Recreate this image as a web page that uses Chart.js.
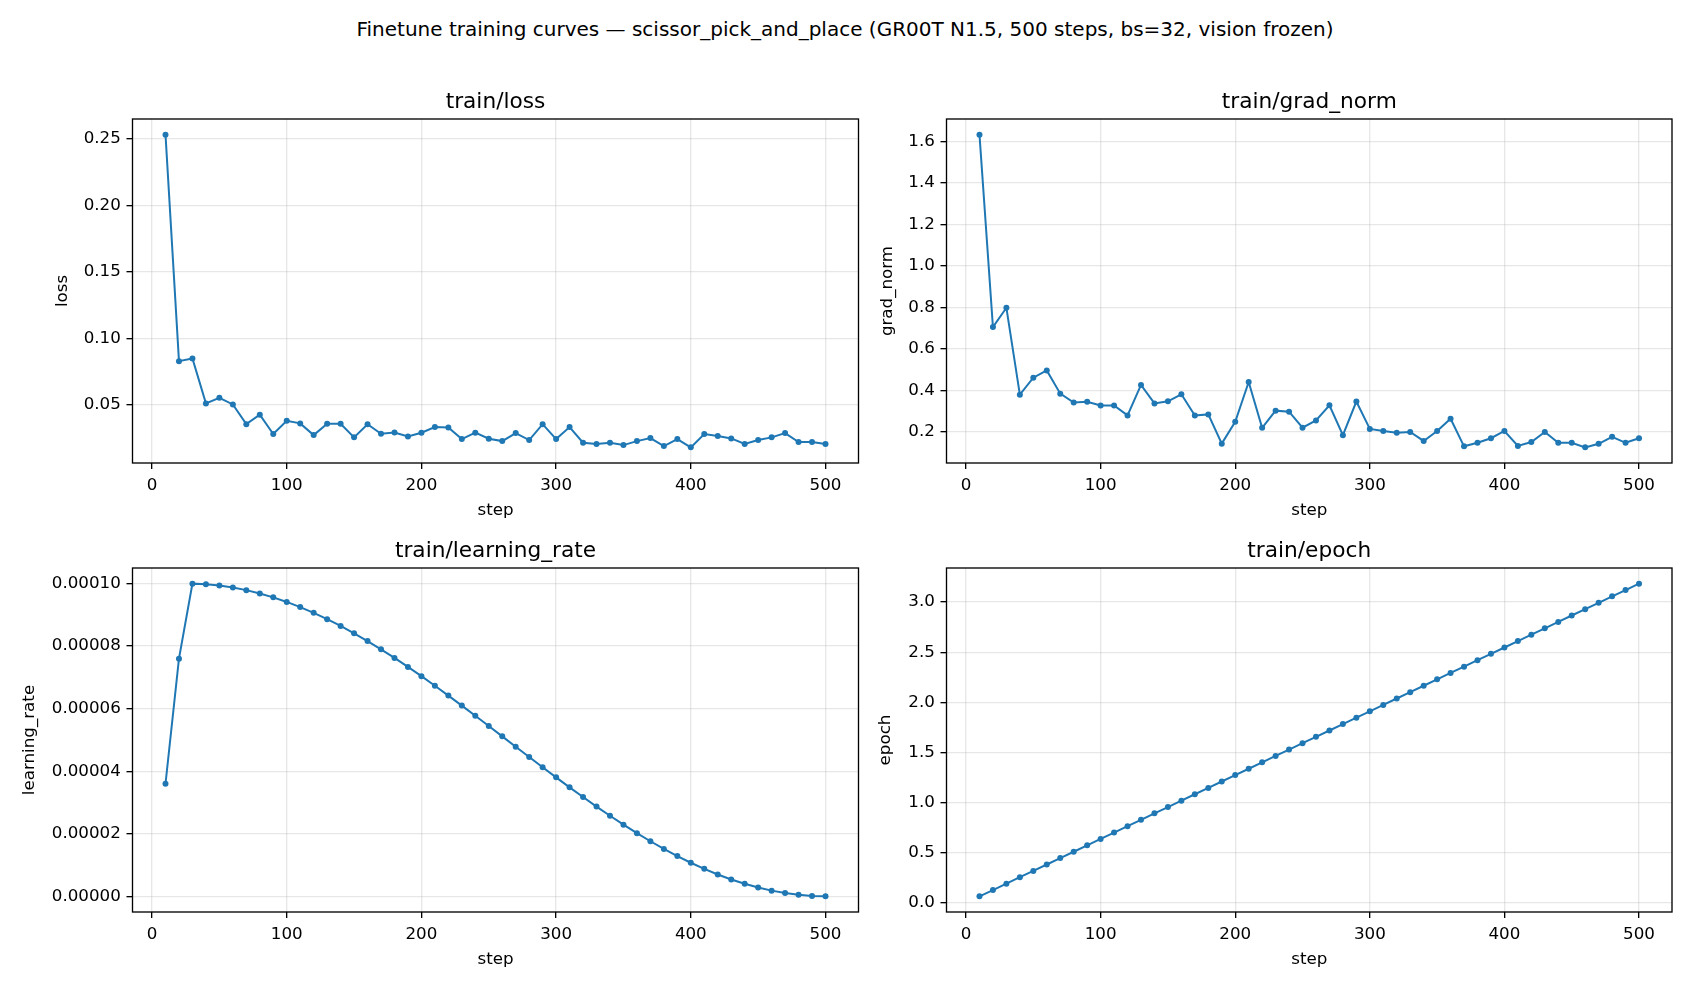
<!DOCTYPE html>
<html>
<head>
<meta charset="utf-8">
<title>Finetune training curves</title>
<script src="https://cdn.jsdelivr.net/npm/chart.js@4.4.1/dist/chart.umd.min.js"></script>
<style>
    html, body { margin: 0; padding: 0; background: #fff; }
    body { width: 1690px; height: 988px; position: relative; overflow: hidden; font-family: 'DejaVu Sans', sans-serif; }
    #suptitle { position: absolute; left: 0; top: 17px; width: 1690px; text-align: center; font-size: 20px; line-height: 24px; color: #000; }
    canvas { position: absolute; }
</style>
</head>
<body>
<div id="suptitle">Finetune training curves — scissor_pick_and_place (GR00T N1.5, 500 steps, bs=32, vision frozen)</div>
<canvas id="c-loss" width="880" height="444" style="left:0px;top:80px"></canvas>
<canvas id="c-grad" width="830" height="444" style="left:860px;top:80px"></canvas>
<canvas id="c-lr" width="880" height="444" style="left:0px;top:529px"></canvas>
<canvas id="c-epoch" width="830" height="444" style="left:860px;top:529px"></canvas>
<script>
/* global Chart */

var steps = [10, 20, 30, 40, 50, 60, 70, 80, 90, 100,
    110, 120, 130, 140, 150, 160, 170, 180, 190, 200,
    210, 220, 230, 240, 250, 260, 270, 280, 290, 300,
    310, 320, 330, 340, 350, 360, 370, 380, 390, 400,
    410, 420, 430, 440, 450, 460, 470, 480, 490, 500];

var lossValues = [0.253, 0.083, 0.085, 0.0513, 0.0555, 0.0505, 0.0357, 0.0428, 0.0283, 0.0383,
    0.0363, 0.0275, 0.036, 0.036, 0.0258, 0.0357, 0.0285, 0.0295, 0.0265, 0.0293,
    0.0335, 0.0333, 0.0245, 0.0293, 0.0248, 0.023, 0.029, 0.0238, 0.0357, 0.0245,
    0.0335, 0.0218, 0.0208, 0.0218, 0.020, 0.023, 0.0253, 0.0193, 0.0245, 0.0183,
    0.0283, 0.0268, 0.025, 0.0208, 0.0238, 0.0258, 0.029, 0.0223, 0.0223, 0.0208];

var gradNormValues = [1.634, 0.706, 0.799, 0.380, 0.462, 0.497, 0.385, 0.342, 0.346, 0.328,
    0.328, 0.280, 0.427, 0.338, 0.348, 0.382, 0.280, 0.285, 0.144, 0.249,
    0.441, 0.220, 0.303, 0.298, 0.221, 0.256, 0.329, 0.185, 0.347, 0.215,
    0.205, 0.197, 0.200, 0.157, 0.205, 0.264, 0.131, 0.148, 0.170, 0.205,
    0.133, 0.152, 0.200, 0.148, 0.148, 0.126, 0.143, 0.177, 0.148, 0.170];

var learningRateValues = [3.600e-5, 7.600e-5, 9.998e-5, 9.979e-5, 9.937e-5, 9.874e-5, 9.790e-5, 9.685e-5, 9.559e-5, 9.413e-5,
    9.248e-5, 9.064e-5, 8.863e-5, 8.645e-5, 8.411e-5, 8.162e-5, 7.899e-5, 7.623e-5, 7.336e-5, 7.039e-5,
    6.733e-5, 6.419e-5, 6.099e-5, 5.774e-5, 5.446e-5, 5.116e-5, 4.785e-5, 4.455e-5, 4.128e-5, 3.805e-5,
    3.486e-5, 3.175e-5, 2.871e-5, 2.577e-5, 2.293e-5, 2.021e-5, 1.762e-5, 1.518e-5, 1.288e-5, 1.075e-5,
    0.879e-5, 0.700e-5, 0.541e-5, 0.401e-5, 0.282e-5, 0.183e-5, 0.105e-5, 0.048e-5, 0.013e-5, 0.0001e-5];

var epochValues = [0.064, 0.127, 0.191, 0.255, 0.318, 0.382, 0.446, 0.509, 0.573, 0.637,
    0.700, 0.764, 0.828, 0.892, 0.955, 1.019, 1.083, 1.146, 1.210, 1.274,
    1.337, 1.401, 1.465, 1.528, 1.592, 1.656, 1.719, 1.783, 1.847, 1.910,
    1.974, 2.038, 2.101, 2.165, 2.229, 2.293, 2.356, 2.420, 2.484, 2.547,
    2.611, 2.675, 2.738, 2.802, 2.866, 2.929, 2.993, 3.057, 3.120, 3.184];

var stepTicks = [0, 100, 200, 300, 400, 500];
var lossTicks = [0.05, 0.10, 0.15, 0.20, 0.25];
var gradNormTicks = [0.2, 0.4, 0.6, 0.8, 1.0, 1.2, 1.4, 1.6];
var learningRateTicks = [0, 0.00002, 0.00004, 0.00006, 0.00008, 0.00010];
var epochTicks = [0.0, 0.5, 1.0, 1.5, 2.0, 2.5, 3.0];

(function () {

    Chart.defaults.font.family = "'DejaVu Sans', sans-serif";
    Chart.defaults.color = '#000';

    var BLUE = '#1f77b4';
    var GRID = 'rgba(176,176,176,0.3)';
    var TICK_FONT = 16.7;

    // matplotlib style autoscale: 5% margin on each side
    var paddedRange = function (arr) {
        var lo = Math.min.apply(null, arr);
        var hi = Math.max.apply(null, arr);
        var m = (hi - lo) * 0.05;
        return [lo - m, hi + m];
    };

    // full box around the axes, like matplotlib spines
    var frame = {
        id: 'frame',
        afterDatasetsDraw: function (chart) {
            var a = chart.chartArea;
            var ctx = chart.ctx;
            ctx.save();
            ctx.strokeStyle = '#000';
            ctx.lineWidth = 1.33;
            ctx.strokeRect(a.left, a.top, a.right - a.left, a.bottom - a.top);
            ctx.restore();
        }
    };

    var xRange = paddedRange(steps);

    function panel(id, title, yLabel, values, yTicks, decimals, box) {
        var yRange = paddedRange(values);
        var points = steps.map(function (s, i) { return {x: s, y: values[i]}; });

        var config = {
            type: 'line',
            data: {
                datasets: [{
                    data: points,
                    borderColor: BLUE,
                    backgroundColor: BLUE,
                    borderWidth: 2,
                    pointRadius: 3,
                    pointHoverRadius: 3,
                    pointBorderWidth: 0,
                    tension: 0,
                    fill: false
                }]
            },
            plugins: [frame],
            options: {
                responsive: false,
                animation: false,
                devicePixelRatio: 1,
                events: [],
                layout: {
                    padding: {left: 0, top: 0, right: box.padRight, bottom: 0}
                },
                plugins: {
                    legend: {display: false},
                    tooltip: {enabled: false},
                    title: {
                        display: true,
                        text: title,
                        fullSize: false,
                        color: '#000',
                        font: {size: 21.7, weight: 'normal'},
                        padding: {top: 9.5, bottom: 3.46}
                    }
                },
                scales: {
                    x: {
                        type: 'linear',
                        min: xRange[0],
                        max: xRange[1],
                        afterBuildTicks: function (scale) {
                            scale.ticks = stepTicks.map(function (v) { return {value: v}; });
                        },
                        afterFit: function (scale) { scale.height = 61; },
                        ticks: {
                            color: '#000',
                            font: {size: TICK_FONT},
                            padding: 7,
                            maxRotation: 0,
                            autoSkip: false,
                            callback: function (v) { return String(v); }
                        },
                        grid: {color: GRID, lineWidth: 1.33, tickColor: '#000', tickLength: 6, tickWidth: 1.33},
                        border: {display: false},
                        title: {display: true, text: 'step', color: '#000', font: {size: TICK_FONT}, padding: {top: 0, bottom: 3}}
                    },
                    y: {
                        type: 'linear',
                        min: yRange[0],
                        max: yRange[1],
                        afterBuildTicks: function (scale) {
                            scale.ticks = yTicks.map(function (v) { return {value: v}; });
                        },
                        afterFit: function (scale) { scale.width = box.yWidth; },
                        ticks: {
                            color: '#000',
                            font: {size: TICK_FONT},
                            padding: 5.7,
                            autoSkip: false,
                            callback: function (v) { return Number(v).toFixed(decimals); }
                        },
                        grid: {color: GRID, lineWidth: 1.33, tickColor: '#000', tickLength: 6, tickWidth: 1.33},
                        border: {display: false},
                        title: {display: true, text: yLabel, color: '#000', font: {size: TICK_FONT}, padding: {top: box.yTitlePad, bottom: 0}}
                    }
                }
            }
        };

        return new Chart(document.getElementById(id), config);
    }

    panel('c-loss', 'train/loss', 'loss', lossValues, lossTicks, 2,
        {yWidth: 132.5, padRight: 21.5, yTitlePad: 52.5});
    panel('c-grad', 'train/grad_norm', 'grad_norm', gradNormValues, gradNormTicks, 1,
        {yWidth: 86.5, padRight: 18, yTitlePad: 17.6});
    panel('c-lr', 'train/learning_rate', 'learning_rate', learningRateValues, learningRateTicks, 5,
        {yWidth: 132.5, padRight: 21.5, yTitlePad: 19.5});
    panel('c-epoch', 'train/epoch', 'epoch', epochValues, epochTicks, 1,
        {yWidth: 86.5, padRight: 18, yTitlePad: 16});

})();
</script>
</body>
</html>
